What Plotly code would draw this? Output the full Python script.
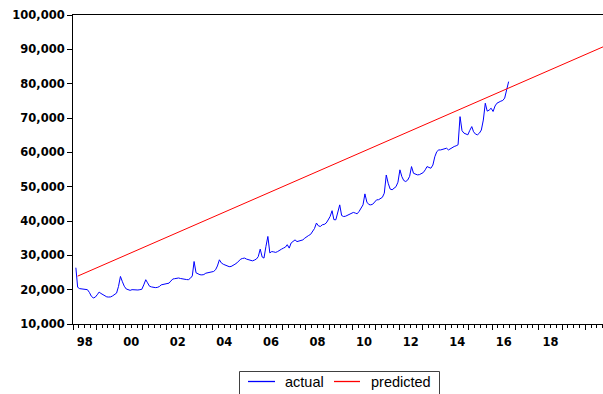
import pandas as pd
import plotly.graph_objects as go

# Monthly observed series, one list per calendar year (Feb 1998 .. Sep 2016)
actual_1998 = [26400, 20700, 20300, 20200, 20200, 20100, 20000, 19200, 18100, 17600, 17800]
actual_1999 = [18500, 19300, 18900, 18500, 18100, 17900, 17850, 17900, 18200, 18500, 19000, 20900]
actual_2000 = [23850, 22300, 21000, 20200, 19900, 19800, 20000, 19900, 19800, 19900, 20000, 20100]
actual_2001 = [21400, 22900, 22000, 21000, 20800, 20650, 20600, 20650, 20900, 21400, 21500, 21600]
actual_2002 = [21700, 21900, 22500, 23100, 23200, 23350, 23400, 23250, 23100, 23000, 22950, 22900]
actual_2003 = [23300, 24000, 28200, 24900, 24500, 24350, 24300, 24400, 24800, 24900, 25000, 25200]
actual_2004 = [25300, 25800, 26900, 28700, 27800, 27400, 27200, 26800, 26700, 26750, 27000, 27400]
actual_2005 = [27800, 28300, 28900, 29100, 29200, 28900, 28700, 28500, 28400, 28600, 28900, 29600]
actual_2006 = [31800, 29500, 29200, 32600, 35500, 30700, 31100, 31000, 30850, 31100, 31600, 31800]
actual_2007 = [32100, 32400, 33100, 32100, 33600, 34200, 34500, 34000, 34100, 34300, 34500, 35000]
actual_2008 = [35500, 35800, 36100, 36900, 37800, 39400, 38600, 38400, 38900, 39000, 39400, 40300]
actual_2009 = [41300, 43000, 40400, 40350, 42300, 44700, 41600, 41300, 41400, 41700, 42100, 42300]
actual_2010 = [42500, 42300, 42100, 42800, 43600, 44700, 47900, 45500, 44800, 44700, 44900, 45500]
actual_2011 = [46170, 46200, 46500, 46900, 48100, 53400, 51000, 49300, 49100, 49600, 50000, 51300]
actual_2012 = [54900, 52900, 51800, 51500, 51900, 53000, 55850, 53900, 53600, 53440, 53500, 53800]
actual_2013 = [54100, 54900, 55850, 55600, 55370, 56300, 58700, 60200, 60700, 60700, 60800, 61000]
actual_2014 = [61200, 60700, 61100, 61300, 61700, 61900, 62200, 70400, 66300, 65600, 65300, 65100]
actual_2015 = [66400, 67500, 66000, 65300, 65100, 65600, 66500, 69400, 74300, 72000, 72300, 72850]
actual_2016 = [71900, 73500, 74300, 74700, 74900, 75100, 75800, 78200, 80600]

actual = (actual_1998 + actual_1999 + actual_2000 + actual_2001 + actual_2002
          + actual_2003 + actual_2004 + actual_2005 + actual_2006 + actual_2007
          + actual_2008 + actual_2009 + actual_2010 + actual_2011 + actual_2012
          + actual_2013 + actual_2014 + actual_2015 + actual_2016)
actual_dates = pd.date_range("1998-02-01", periods=len(actual), freq="MS") + pd.Timedelta(days=14)

# Linear trend line: first and last fitted values
predicted_dates = ["1998-03-15", "2020-12-15"]
predicted = [23940, 91300]

y_ticks = [10000, 20000, 30000, 40000, 50000, 60000, 70000, 80000, 90000, 100000]

series_names = ["actual", "predicted"]
series_colors = ["#0000FF", "#FF0000"]

W, H = 603, 394
M_L, M_R, M_T, M_B = 73, 0, 15, 70
PLOT_W = W - M_L - M_R
PLOT_H = H - M_T - M_B


def px_x(px):
    """Pixel column -> paper x."""
    return (px - M_L) / PLOT_W


def px_y(py):
    """Pixel row -> paper y."""
    return (H - M_B - py) / PLOT_H


fig = go.Figure()
fig.add_trace(go.Scatter(x=actual_dates, y=actual, mode="lines", name=series_names[0],
                         line=dict(color=series_colors[0], width=1), showlegend=False))
fig.add_trace(go.Scatter(x=predicted_dates, y=predicted, mode="lines", name=series_names[1],
                         line=dict(color=series_colors[1], width=1), showlegend=False))

# Boxed key below the plot (its lower edge runs past the bottom of the page)
shapes = [dict(type="rect", xref="paper", yref="paper",
               x0=px_x(239.5), x1=px_x(439.5), y0=px_y(371.5), y1=px_y(402),
               line=dict(color="#404040", width=1), fillcolor="white", layer="above")]
annotations = []
key_y = px_y(381.5)
key_items = [(248, 275, 283), (334, 360, 368.5)]
for i, (line_start, line_end, text_left) in enumerate(key_items):
    shapes.append(dict(type="line", xref="paper", yref="paper",
                       x0=px_x(line_start), x1=px_x(line_end), y0=key_y, y1=key_y,
                       line=dict(color=series_colors[i], width=1.3), layer="above"))
    annotations.append(dict(xref="paper", yref="paper", x=px_x(text_left), y=key_y,
                            xanchor="left", yanchor="middle", showarrow=False,
                            text=series_names[i],
                            font=dict(family="Liberation Sans", size=14.5, color="black")))

tick_font = dict(family="DejaVu Sans", size=11.5, color="black", weight="bold")

fig.update_layout(
    width=W, height=H,
    margin=dict(l=M_L, r=M_R, t=M_T, b=M_B, autoexpand=False),
    plot_bgcolor="white", paper_bgcolor="white",
    showlegend=False,
    shapes=shapes,
    annotations=annotations,
    xaxis=dict(
        type="date", range=["1998-01-01", "2020-10-04"],
        showline=True, linecolor="black", linewidth=1, mirror=True,
        showgrid=False, zeroline=False,
        ticks="outside", ticklen=5, tickcolor="black", tickwidth=1,
        dtick="M12", tick0="1998-01-01", tickformat="%y",
        ticklabelmode="period", ticklabelstep=2, ticklabelstandoff=2,
        minor=dict(dtick="M3", tick0="1998-01-01", ticks="outside",
                   ticklen=3, tickcolor="black", tickwidth=1),
        tickfont=tick_font,
    ),
    yaxis=dict(
        range=[10000, 100000], tickvals=y_ticks, tickformat=",",
        showline=True, linecolor="black", linewidth=1,
        showgrid=False, zeroline=False,
        ticks="outside", ticklen=5, tickcolor="black", tickwidth=1,
        tickfont=tick_font,
    ),
)

fig.write_html("out.html")
